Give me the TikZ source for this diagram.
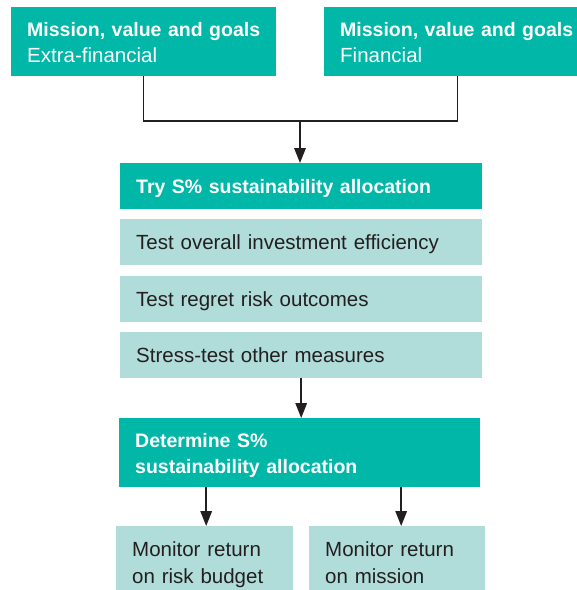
\documentclass[tikz,border=0pt]{standalone}
\usepackage{fontspec}
\setmainfont{Liberation Sans}
\usetikzlibrary{arrows.meta}
\definecolor{darkteal}{RGB}{0,183,168}
\definecolor{paleteal}{RGB}{176,221,217}
\definecolor{ink}{RGB}{35,31,32}

\begin{document}
\begin{tikzpicture}[x=1pt,y=-1pt,
  box/.style={anchor=north west,inner xsep=16pt,inner ysep=0pt,align=left,
    text height=15pt,text depth=0pt},
  twolines/.style={text depth=26pt},
  head/.style={box,fill=darkteal,text=white,
    font=\fontsize{19.5}{26}\selectfont\bfseries},
  sub/.style={box,fill=paleteal,text=ink,
    font=\fontsize{20.5}{27}\selectfont},
  wire/.style={draw=ink,line width=1.5pt},
  link/.style={wire,-{Triangle[length=15pt,width=11.5pt]}}]
  \useasboundingbox (0,0) rectangle (577,590);
  % goals on both sides
  \node[head,twolines,text width=233pt,minimum height=69pt] (ext) at (11,7)
    {Mission, value and goals\\{\mdseries\fontsize{20.5}{26}\selectfont Extra-financial}};
  \node[head,twolines,text width=235pt,minimum height=69pt] (fin) at (324,7)
    {Mission, value and goals\\{\mdseries\fontsize{20.5}{26}\selectfont Financial}};
  % allocation and its tests
  \node[head,text width=330pt,minimum height=46pt] (try) at (120,163)
    {Try S\% sustainability allocation};
  \foreach \name/\ypos/\entry in {eff/219/{Test overall investment efficiency},
      regret/276/{Test regret risk outcomes},stress/332/{Stress-test other measures}}
    \node[sub,text width=330pt,minimum height=46pt] (\name) at (120,\ypos) {\entry};
  \node[head,twolines,text width=329pt,minimum height=69pt] (det) at (119,418)
    {Determine S\%\\sustainability allocation};
  % monitoring
  \node[sub,twolines,text width=145pt,minimum height=71pt] (riskb) at (116,526)
    {Monitor return\\on risk budget};
  \node[sub,twolines,text width=144pt,minimum height=71pt] (onmission) at (309,526)
    {Monitor return\\on mission};
  % connectors
  \coordinate (join) at (300,121);
  \draw[wire] (ext.south) |- (join) -| (fin.south);
  \draw[link] (join) -- (join |- try.north);
  \draw[link] (stress.south) -- (stress.south |- det.north);
  \draw[link] ([xshift=1.5pt]riskb.north |- det.south) -- ([xshift=1.5pt]riskb.north);
  \draw[link] ([xshift=4pt]onmission.north |- det.south) -- ([xshift=4pt]onmission.north);
\end{tikzpicture}
\end{document}
